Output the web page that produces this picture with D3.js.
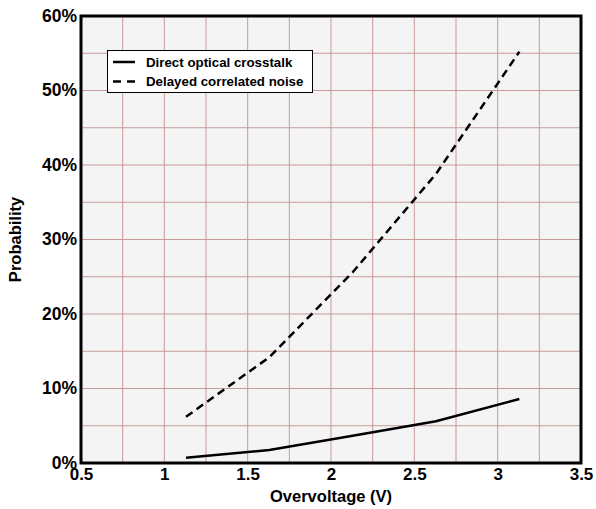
<!DOCTYPE html>
<html>
<head>
<meta charset="utf-8">
<script src="https://cdn.jsdelivr.net/npm/d3@7"></script>
<style>
body { margin: 0; background: #fff; }
text { font-family: "Liberation Sans", Arial, sans-serif; font-weight: bold; }
</style>
</head>
<body>
<svg id="chart" width="596" height="509"></svg>
<script>
// данные графика
let overvoltage = [1.13, 1.63, 2.13, 2.63, 3.13];
let directCrosstalk = [0.007, 0.0175, 0.0365, 0.056, 0.086];
let delayedNoise = [0.062, 0.142, 0.256, 0.388, 0.552];
let xTicks = [0.5, 1, 1.5, 2, 2.5, 3, 3.5];
let yTicks = [0, 0.1, 0.2, 0.3, 0.4, 0.5, 0.6];
let seriesNames = ["Direct optical crosstalk", "Delayed correlated noise"];

let plotLeft = 81, plotRight = 581, plotTop = 16, plotBottom = 463;
let svg = d3.select("#chart");

let scaleX = d3.scaleLinear().domain([0.5, 3.5]).range([plotLeft, plotRight]);
let scaleY = d3.scaleLinear().domain([0, 0.6]).range([plotBottom, plotTop]);

// фон
svg.append("rect")
	.attr("x", plotLeft).attr("y", plotTop)
	.attr("width", plotRight - plotLeft).attr("height", plotBottom - plotTop)
	.style("fill", "#f4f4f4");

// сетка каждые 0.25 В и 5%
let gridX = d3.range(0.75, 3.5, 0.25);
let gridY = d3.range(0.05, 0.6, 0.05);
svg.selectAll(".gx").data(gridX).enter().append("line")
	.attr("x1", d => scaleX(d)).attr("x2", d => scaleX(d))
	.attr("y1", plotTop).attr("y2", plotBottom)
	.style("stroke", "#c99a9a").style("stroke-width", 1);
svg.selectAll(".gy").data(gridY).enter().append("line")
	.attr("x1", plotLeft).attr("x2", plotRight)
	.attr("y1", d => scaleY(d)).attr("y2", d => scaleY(d))
	.style("stroke", "#c99a9a").style("stroke-width", 1);

// линии
let line = d3.line().x(d => scaleX(d[0])).y(d => scaleY(d[1]));
svg.append("path")
	.datum(d3.zip(overvoltage, directCrosstalk))
	.attr("d", line)
	.style("fill", "none").style("stroke", "#000").style("stroke-width", 2.5);
svg.append("path")
	.datum(d3.zip(overvoltage, delayedNoise))
	.attr("d", line)
	.style("fill", "none").style("stroke", "#000").style("stroke-width", 2.5)
	.style("stroke-dasharray", "8,5");

// оси
let axisX = d3.axisBottom(scaleX).tickValues(xTicks).tickSize(0).tickPadding(5)
	.tickFormat(d3.format("~g"));
let axisY = d3.axisLeft(scaleY).tickValues(yTicks).tickSize(0).tickPadding(4)
	.tickFormat(d3.format(".0%"));
let gx = svg.append("g").attr("transform", `translate(0, ${plotBottom})`).call(axisX);
let gy = svg.append("g").attr("transform", `translate(${plotLeft}, 0)`).call(axisY);
[gx, gy].forEach(g => {
	g.select(".domain").remove();
	g.selectAll("text").style("fill", "#000")
		.style("font-family", "'Liberation Sans', Arial, sans-serif");
});
gx.selectAll("text").style("font-size", "17px");
gy.selectAll("text").style("font-size", "17.5px").attr("dy", "0.3em");

// рамка
svg.append("rect")
	.attr("x", plotLeft).attr("y", plotTop)
	.attr("width", plotRight - plotLeft).attr("height", plotBottom - plotTop)
	.style("fill", "none").style("stroke", "#000").style("stroke-width", 3);

// подписи осей
svg.append("text")
	.attr("x", (plotLeft + plotRight) / 2).attr("y", 502)
	.attr("text-anchor", "middle").style("font-size", "16.5px")
	.text("Overvoltage (V)");
svg.append("text")
	.attr("transform", `translate(21, ${(plotTop + plotBottom) / 2}) rotate(-90)`)
	.attr("text-anchor", "middle").style("font-size", "16.5px")
	.text("Probability");

// легенда
let lg = svg.append("g");
lg.append("rect")
	.attr("x", 107.5).attr("y", 50.5).attr("width", 205).attr("height", 42)
	.style("fill", "#fff").style("stroke", "#000").style("stroke-width", 1);
seriesNames.forEach((name, i) => {
	let y = 62 + i * 19.5;
	lg.append("line")
		.attr("x1", 113).attr("x2", 135).attr("y1", y).attr("y2", y)
		.style("stroke", "#000").style("stroke-width", 2.5)
		.style("stroke-dasharray", i == 1 ? "8,6" : null);
	lg.append("text")
		.attr("x", 146).attr("y", y + 4.5)
		.style("font-size", "13.3px")
		.text(name);
});
</script>
</body>
</html>
